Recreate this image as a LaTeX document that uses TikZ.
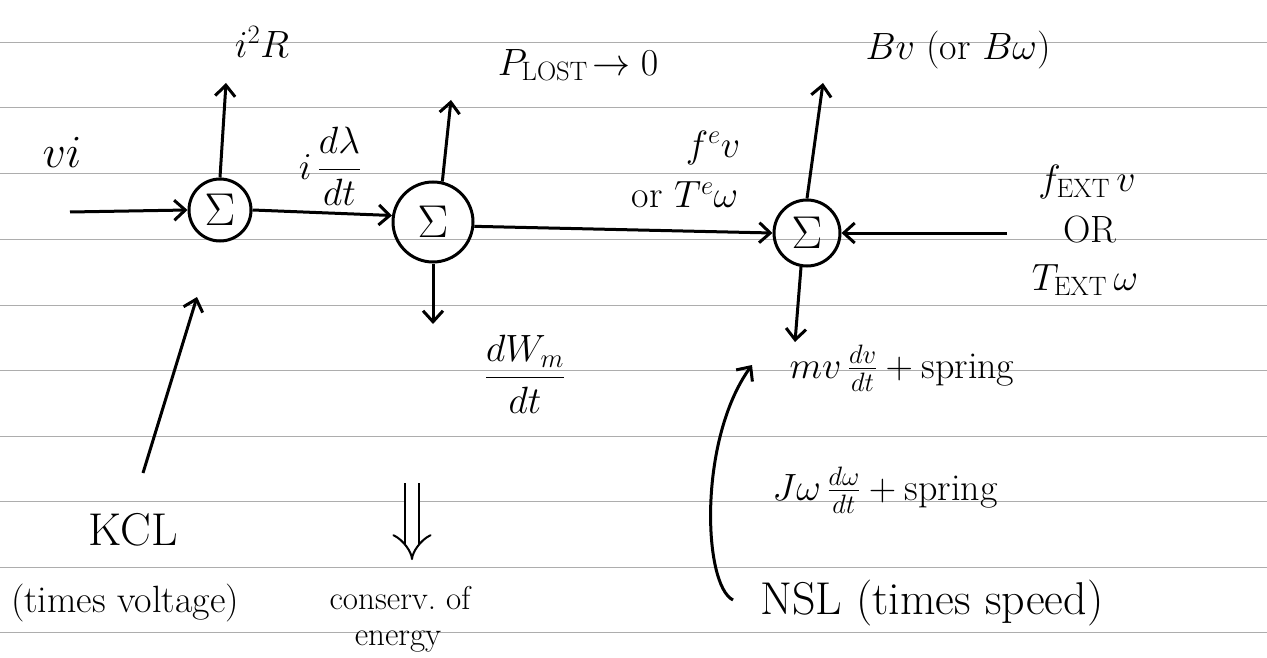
\RequirePackage{fix-cm}
\documentclass[tikz,border=0pt]{standalone}
\usepackage{amsmath}
\usetikzlibrary{arrows.meta}
\begin{document}
\begin{tikzpicture}[x=1pt, y=-1pt, line width=3pt,
  sumnode/.style={circle, draw, minimum size=62pt, inner sep=0pt, font=\fontsize{46}{46}\selectfont},
  flow/.style={-{Straight Barb[length=11pt, width=20pt]}},
  lbl/.style={font=\fontsize{38}{44}\selectfont, inner sep=1pt},
  big lbl/.style={font=\fontsize{46}{52}\selectfont, inner sep=1pt},
  note lbl/.style={font=\fontsize{33}{36}\selectfont, inner sep=1pt},
  ruling/.style={black!32, line width=1pt}]
  \useasboundingbox (0,0) rectangle (1267,658);
  % ruled paper
  \foreach \y in {43,108,174,239,305,370,436,501,567,632}
    \draw[ruling] (0,\y) -- (1267,\y);
  % summing junctions
  \node[sumnode] (s1) at (220,210) {$\Sigma$};
  \node[sumnode, minimum size=80pt] (s2) at (433,222) {$\Sigma$};
  \node[sumnode, minimum size=66pt] (s3) at (807,233) {$\Sigma$};
  % free ends
  \coordinate (vin) at (70,212);
  \coordinate (s1up) at (226,83);
  \coordinate (s2up) at (451,100);
  \coordinate (s2down) at (433,324);
  \coordinate (s3up) at (823,83);
  \coordinate (s3down) at (795,342);
  \coordinate (ext) at (1007,233);
  \coordinate (kclfoot) at (143,473);
  \coordinate (kcltip) at (197,297);
  \coordinate (nslfoot) at (733,600);
  \coordinate (nsltip) at (752,365);
  % power flow
  \draw[flow] (vin) -- (s1.west);
  \draw[flow] (s1.north) -- (s1up);
  \draw[flow] (s1.east) -- (s2.171);
  \draw[flow] (s2.77) -- (s2up);
  \draw[flow] (s2.-6) -- (s3.west);
  \draw[flow] (s2.south) -- (s2down);
  \draw[flow] (s3.north) -- (s3up);
  \draw[flow] (s3.-100) -- (s3down);
  \draw[flow] (ext) -- (s3.east);
  % pointers to the laws
  \draw[flow] (kclfoot) -- (kcltip);
  \draw[flow] (nslfoot) .. controls (703,585) and (698,440) .. (nsltip);
  \draw[line width=2pt, double distance=12pt, -{Implies[length=24pt, width=60pt]}] (412,483) -- (412,560);
  % labels
  \node[big lbl] (lvi) at (62,152) {$v i$};
  \node[lbl] (li2r) at (262,42) {$i^2 R$};
  \node[lbl] (lidl) at (330,166) {$i\,\dfrac{d\lambda}{dt}$};
  \node[lbl] (lplost) at (578,65) {$P_{\mathrm{LOST}}\!\to 0$};
  \node[lbl] (lfe) at (713,148) {$f^e v$};
  \node[lbl] (lte) at (685,195) {or $T^e\omega$};
  \node[lbl] (ldwm) at (525,374) {$\dfrac{dW_m}{dt}$};
  \node[lbl] (lbv) at (958,50) {$Bv$ (or $B\omega$)};
  \node[lbl] (lfext) at (1087,182) {$f_{\mathrm{EXT}}\,v$};
  \node[lbl] (lor) at (1090,230) {OR};
  \node[lbl] (ltext) at (1085,280) {$T_{\mathrm{EXT}}\,\omega$};
  \node[lbl] (lmv) at (902,368) {$mv\,\frac{dv}{dt} + \text{spring}$};
  \node[lbl] (ljw) at (885,490) {$J\omega\,\frac{d\omega}{dt} + \text{spring}$};
  \node[big lbl] (lkcl) at (133,530) {KCL};
  \node[lbl] (lvolt) at (125,603) {(times voltage)};
  \node[note lbl] (lcons) at (400,598) {conserv.\ of};
  \node[note lbl] (lenergy) at (398,642) {energy};
  \node[big lbl] (lnsl) at (932,603) {NSL (times speed)};
\end{tikzpicture}
\end{document}
